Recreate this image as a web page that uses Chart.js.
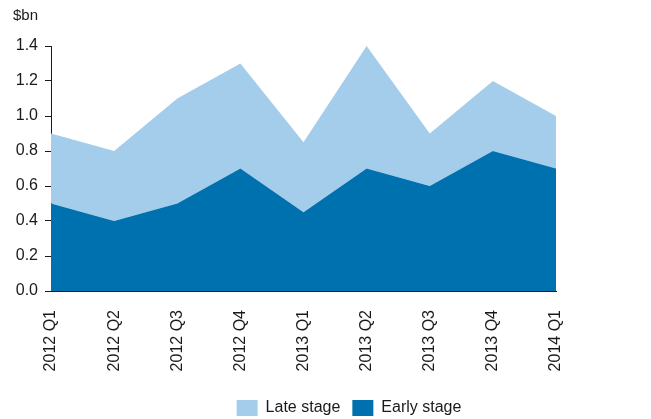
<!DOCTYPE html>
<html>
<head>
<meta charset="utf-8">
<script src="https://cdn.jsdelivr.net/npm/chart.js@4/dist/chart.umd.min.js"></script>
<style>
  html, body { margin: 0; padding: 0; background: #fff; }
  #wrap { width: 651px; height: 419px; position: relative; }
</style>
</head>
<body>
<div id="wrap"><canvas id="chart"></canvas></div>
<script>
// Quarterly values, $bn. Early stage sits at the bottom of the stack,
// late stage is stacked on top of it.
const quarters = ['2012 Q1', '2012 Q2', '2012 Q3', '2012 Q4', '2013 Q1', '2013 Q2', '2013 Q3', '2013 Q4', '2014 Q1'];
const earlyStage = [0.5, 0.4, 0.5, 0.7, 0.45, 0.7, 0.6, 0.8, 0.7];
const lateStage = [0.4, 0.4, 0.6, 0.6, 0.4, 0.7, 0.3, 0.4, 0.3];
const yTicks = [0, 0.2, 0.4, 0.6, 0.8, 1.0, 1.2, 1.4];

const FONT = '"Liberation Sans", Arial, sans-serif';
const INK = '#1a1a1a';
const DARK = '#0071af';
const LIGHT = '#a4cdec';

// legend sits off-centre in the original, nudge it after layout
const LEGEND_DX = 71;
const LEGEND_DY = 7;

const unitLabel = {
  id: 'unitLabel',
  afterDraw(chart) {
    const ctx = chart.ctx;
    ctx.save();
    ctx.font = `15px ${FONT}`;
    ctx.fillStyle = INK;
    ctx.textBaseline = 'top';
    ctx.fillText('$bn', 13, 8);
    ctx.restore();
  },
};

const legendNudge = {
  id: 'legendNudge',
  afterLayout(chart) {
    const lg = chart.legend;
    if (!lg) return;
    lg.left += LEGEND_DX;
    lg.right += LEGEND_DX;
    lg.top += LEGEND_DY;
    lg.bottom += LEGEND_DY;
  },
};

new Chart(document.getElementById('chart').getContext('2d'), {
  type: 'line',
  data: {
    labels: quarters,
    datasets: [
      {
        label: 'Early stage',
        data: earlyStage,
        backgroundColor: DARK,
        borderColor: DARK,
        borderWidth: 0,
        pointRadius: 0,
        tension: 0,
        fill: 'origin',
      },
      {
        label: 'Late stage',
        data: lateStage,
        backgroundColor: LIGHT,
        borderColor: LIGHT,
        borderWidth: 0,
        pointRadius: 0,
        tension: 0,
        fill: '-1',
      },
    ],
  },
  options: {
    responsive: true,
    maintainAspectRatio: false,
    animation: false,
    layout: { padding: { left: 0, right: 95, top: 46, bottom: 0 } },
    scales: {
      x: {
        offset: false,
        grid: { display: false, drawTicks: false },
        border: { display: true, color: INK, width: 1 },
        ticks: {
          autoSkip: false,
          minRotation: 90,
          maxRotation: 90,
          padding: 19,
          color: INK,
          font: { family: FONT, size: 16 },
        },
        afterFit: (scale) => { scale.height = 90; },
      },
      y: {
        stacked: true,
        min: 0,
        max: 1.4,
        afterBuildTicks: (scale) => { scale.ticks = yTicks.map((v) => ({ value: v })); },
        grid: { display: true, drawOnChartArea: false, drawTicks: true, tickLength: 6, color: INK },
        border: { display: true, color: INK, width: 1 },
        ticks: {
          padding: 7,
          color: INK,
          font: { family: FONT, size: 16 },
          callback: (v) => Number(v).toFixed(1),
        },
        afterFit: (scale) => { scale.width = 51; },
      },
    },
    plugins: {
      legend: {
        position: 'bottom',
        reverse: true,
        labels: {
          boxWidth: 21,
          boxHeight: 16,
          padding: 12,
          color: INK,
          font: { family: FONT, size: 16 },
        },
      },
      tooltip: { enabled: false },
    },
  },
  plugins: [unitLabel, legendNudge],
});
</script>
</body>
</html>
